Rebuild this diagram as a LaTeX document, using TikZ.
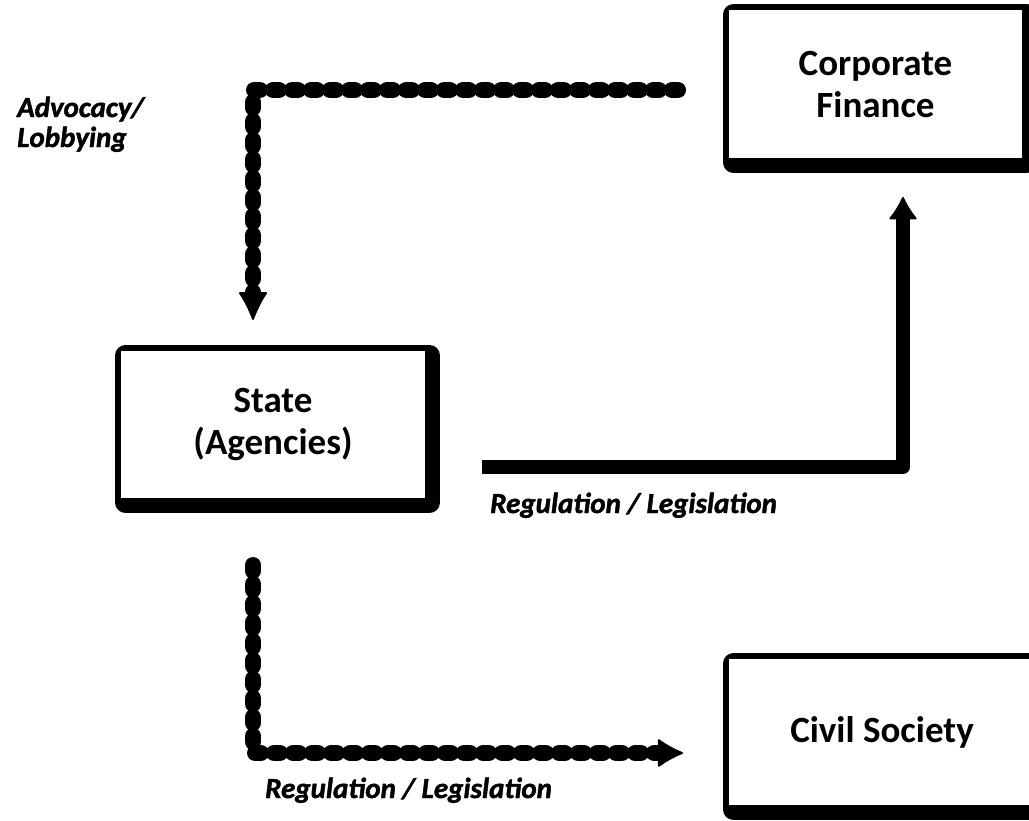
\documentclass[tikz,border=0pt]{standalone}
\usepackage{fontspec}
\setmainfont{Carlito}
\newfontfamily\labelfont{Carlito}[BoldItalicFeatures={FakeBold=1.6}]
\usetikzlibrary{arrows.meta}

\begin{document}
\begin{tikzpicture}
  [x=1pt,y=-1pt,
   box/.style={fill=white,minimum width=#1,minimum height=147pt,inner sep=0pt,align=center,
     font=\fontsize{37}{42}\selectfont\bfseries,
     preaction={draw=black,line width=21pt,line join=round,
       transform canvas={shift={(4.5pt,-4.5pt)}}}},
   lbl/.style={font=\labelfont\fontsize{29}{30}\selectfont\bfseries\itshape,align=left,inner sep=0pt},
   beads/.style={line width=16pt,line cap=round,dash pattern=on 6pt off 13pt},
   tip/.style={-{Latex[round,length=#1,width=30pt,line width=2pt]}}]
  \useasboundingbox (0,0) rectangle (1029,820);

  \node[box=304pt] (state) at (273,424.5) {State\\(Agencies)};
  \node[box=293pt,minimum height=148pt] (corp) at (875.5,84) {Corporate\\Finance};
  \node[box=306pt,minimum height=146pt] (civil) at (882,732) {Civil Society};

  \node[lbl,anchor=base west] (adv) at (17,147) {Advocacy/\\Lobbying};
  \node[lbl,anchor=base west] (reg1) at (490,513) {Regulation / Legislation};
  \node[lbl,anchor=base west] (reg2) at (265,798) {Regulation / Legislation};

  \coordinate (advs) at (678,90);
  \coordinate (adve) at (253,320);
  \coordinate (regs) at (482,467);
  \coordinate (rege) at (903,197);
  \coordinate (civs) at (253,565);
  \coordinate (cive) at (683,753);

  \draw[beads,tip=30pt] (advs) -| (adve);
  \draw[line width=14pt,line join=round,tip=24pt] (regs) -| (rege);
  \draw[beads,tip=27pt] (civs) |- (cive);

\end{tikzpicture}
\end{document}
